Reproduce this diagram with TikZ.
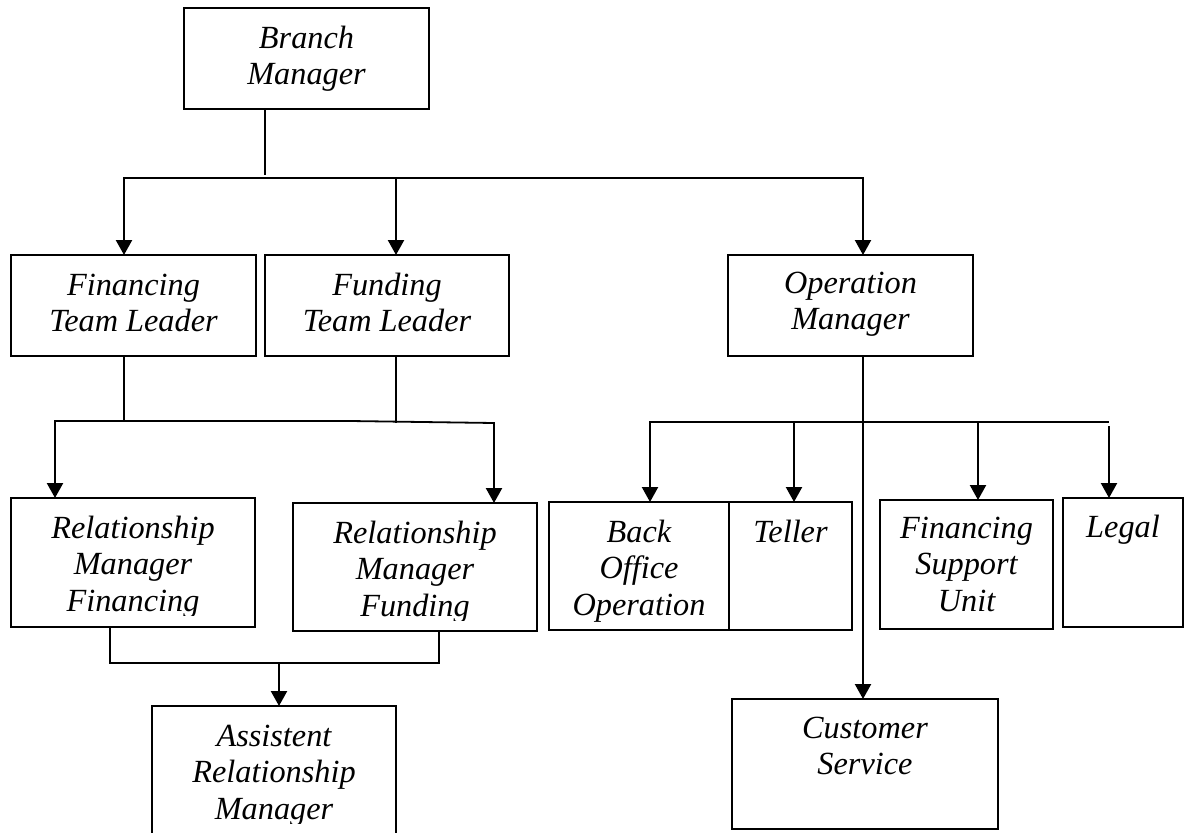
\documentclass[tikz,border=0pt]{standalone}
\usepackage{fontspec}
\setmainfont{Liberation Serif}
\usetikzlibrary{arrows.meta}
\newcommand{\topstrut}{\rule{0pt}{26pt}}
\begin{document}
\begin{tikzpicture}[x=1pt,y=-1pt,
  box/.style={draw=black, line width=2pt, inner sep=0pt, outer sep=0pt, anchor=north west},
  txt/.style={font=\fontsize{32.3}{36.5}\selectfont\itshape, align=center, inner sep=0pt, anchor=north},
  link/.style={draw=black, line width=1.8pt, line cap=rect},
  arr/.style={draw=black, line width=2.3pt, -{Triangle[length=15pt,width=16pt]}}]
\useasboundingbox (0,0) rectangle (1190,832);
\fill[white] (0,0) rectangle (1190,832);
\clip (0,0) rectangle (1190,832);

% boxes
\node[box, minimum width=245pt, minimum height=101pt] (bm)  at (184,8)   {};
\node[box, minimum width=245pt, minimum height=101pt] (ftl) at (11,255)  {};
\node[box, minimum width=244pt, minimum height=101pt] (dtl) at (265,255) {};
\node[box, minimum width=245pt, minimum height=101pt] (om)  at (728,255) {};
\node[box, minimum width=244pt, minimum height=129pt] (rmf) at (11,498)  {};
\node[box, minimum width=244pt, minimum height=128pt] (rmd) at (293,503) {};
\node[box, minimum width=244pt, minimum height=140pt] (arm) at (152,706) {};
\node[box, minimum width=180pt, minimum height=128pt] (bo)  at (549,502) {};
\node[box, minimum width=123pt, minimum height=128pt] (tel) at (729,502) {};
\node[box, minimum width=173pt, minimum height=129pt] (fsu) at (880,500) {};
\node[box, minimum width=120pt, minimum height=129pt] (leg) at (1063,498) {};
\node[box, minimum width=266pt, minimum height=130pt] (cs)  at (732,699) {};

% texts
\node[txt] (bmt)  at (306.5,22)  {\topstrut Branch\\Manager};
\node[txt] (ftlt) at (133.5,269) {\topstrut Financing\\Team Leader};
\node[txt] (dtlt) at (387,269)   {\topstrut Funding\\Team Leader};
\node[txt] (omt)  at (850.5,267) {\topstrut Operation\\Manager};
\begin{scope}
  \clip (11,498) rectangle (255,615);
  \node[txt] (rmft) at (133,512) {\topstrut Relationship\\Manager\\Financing};
\end{scope}
\begin{scope}
  \clip (293,503) rectangle (537,620);
  \node[txt] (rmdt) at (415,517) {\topstrut Relationship\\Manager\\Funding};
\end{scope}
\begin{scope}
  \clip (152,706) rectangle (396,823);
  \node[txt] (armt) at (274,720) {\topstrut Assistent\\Relationship\\Manager};
\end{scope}
\node[txt] (bot)  at (639,516)   {\topstrut Back\\Office\\Operation};
\node[txt] (telt) at (790.5,516) {\topstrut Teller};
\node[txt] (fsut) at (966.5,512) {\topstrut Financing\\Support\\Unit};
\node[txt] (legt) at (1123,511)  {\topstrut Legal};
\node[txt] (cst)  at (865,712)   {\topstrut Customer\\Service};

% level 1 connectors
\coordinate (j0) at (265,174);
\coordinate (b1L) at (124,178);
\coordinate (b1M) at (396,178);
\coordinate (b1R) at (863,178);
\draw[link] (bm.south -| j0) -- (j0);
\draw[link] (b1L) -- (b1R);
\draw[arr] (b1L) -- (ftl.north -| b1L);
\draw[arr] (b1M) -- (dtl.north -| b1M);
\draw[arr] (b1R) -- (om.north -| b1R);

% level 2 connectors
\coordinate (b2L) at (55,421);
\coordinate (b2a) at (124,421);
\coordinate (b2k) at (350,421);
\coordinate (b2b) at (396,422);
\coordinate (b2R) at (494,423);
\draw[link] (ftl.south -| b2a) -- (b2a);
\draw[link] (dtl.south -| b2b) -- (b2b);
\draw[link] (b2L) -- (b2k) -- (b2R);
\draw[arr] (b2L) -- (rmf.north -| b2L);
\draw[arr] (b2R) -- (rmd.north -| b2R);

% level 3 connectors
\coordinate (b3L) at (110,663);
\coordinate (b3R) at (439,663);
\coordinate (b3M) at (279,663);
\draw[link] (rmf.south -| b3L) -- (b3L) -- (b3R) -- (rmd.south -| b3R);
\draw[arr] (b3M) -- (arm.north -| b3M);

% operation manager connectors
\draw[arr] (om.south -| b1R) -- (cs.north -| b1R);
\coordinate (b4L) at (650,422);
\coordinate (b4T) at (794,422);
\coordinate (b4F) at (978,422);
\coordinate (b4R) at (1108,422);
\coordinate (b4G) at (1109,426);
\draw[link] (b4L) -- (b4R);
\draw[arr] (b4L) -- (bo.north -| b4L);
\draw[arr] (b4T) -- (tel.north -| b4T);
\draw[arr] (b4F) -- (fsu.north -| b4F);
\draw[arr] (b4G) -- (leg.north -| b4G);
\end{tikzpicture}
\end{document}
